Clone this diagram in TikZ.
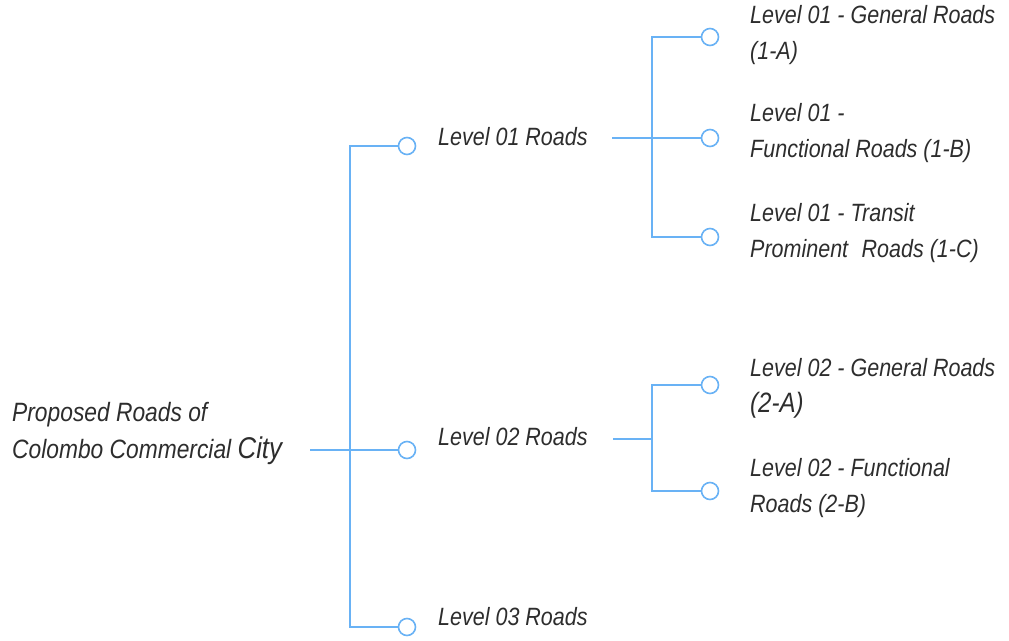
\documentclass[tikz,border=0pt]{standalone}
\usepackage{fontspec}
\setmainfont[FakeStretch=0.86]{Liberation Sans}
\definecolor{lineblue}{RGB}{105,178,245}
\definecolor{txt}{RGB}{45,45,45}
\begin{document}
\begin{tikzpicture}[x=1pt,y=-1pt,
  conn/.style={lineblue, line width=1.6pt},
  dot/.style={circle, draw=lineblue, fill=white, line width=1.6pt, minimum size=17pt, inner sep=0pt},
  lbl/.style={anchor=west, inner sep=0pt, align=left, text=txt, font=\fontsize{25}{36}\selectfont\itshape}]
\useasboundingbox (0,0) rectangle (1009,640);
% root
\node[lbl, font=\fontsize{26.5}{37}\selectfont\itshape] (root) at (12,434) {Proposed Roads of\\Colombo Commercial {\fontsize{30}{37}\selectfont City}};
\coordinate (rs) at (310,450);
\coordinate (t1) at (350,146);
\coordinate (t3) at (350,627);
\node[dot] (c1) at (407,146) {};
\node[dot] (c2) at (407,450) {};
\node[dot] (c3) at (407,627) {};
\draw[conn] (rs) -- (c2);
\draw[conn] (c1) -- (t1) -- (t3) -- (c3);
\node[lbl] (l1) at (438,137) {Level 01 Roads};
\node[lbl] (l2) at (438,437) {Level 02 Roads};
\node[lbl] (l3) at (438,617) {Level 03 Roads};
% level 01 branches
\coordinate (s1) at (612,138);
\coordinate (v1t) at (652,37);
\coordinate (v1b) at (652,237);
\node[dot] (d1) at (710,37) {};
\node[dot] (d2) at (710,138) {};
\node[dot] (d3) at (710,237) {};
\draw[conn] (s1) -- (d2);
\draw[conn] (d1) -- (v1t) -- (v1b) -- (d3);
\node[lbl] (t11) at (750,35) {Level 01 - General Roads\\(1-A)};
\node[lbl] (t12) at (750,133) {Level 01 -\\Functional Roads (1-B)};
\node[lbl] (t13) at (750,233) {Level 01 - Transit\\Prominent\hspace{0.3em} Roads (1-C)};
% level 02 branches
\coordinate (s2) at (613,439);
\coordinate (v2t) at (652,385);
\coordinate (v2b) at (652,491);
\coordinate (j2) at (652,439);
\node[dot] (e1) at (710,385) {};
\node[dot] (e2) at (710,491) {};
\draw[conn] (s2) -- (j2);
\draw[conn] (e1) -- (v2t) -- (v2b) -- (e2);
\node[lbl] (t21) at (750,388) {Level 02 - General Roads\\{\fontsize{28}{36}\selectfont(2-A)}};
\node[lbl] (t22) at (750,488) {Level 02 - Functional\\Roads (2-B)};
\end{tikzpicture}
\end{document}
